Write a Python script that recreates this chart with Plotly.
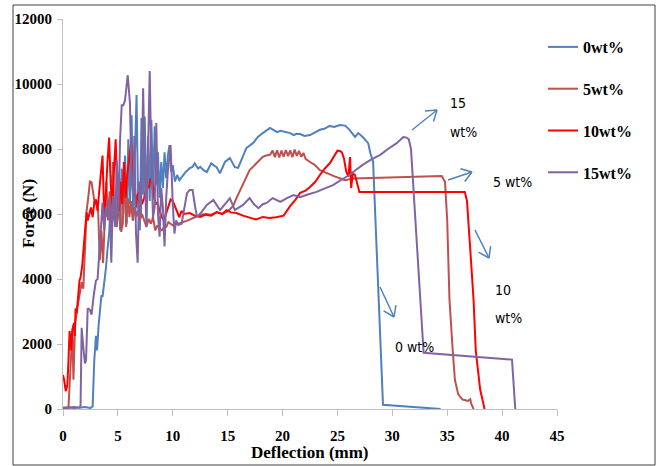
import math
import plotly.graph_objects as go

# ---------------- data ----------------
series_names = ["0wt%", "5wt%", "10wt%", "15wt%"]

x_0wt = [0, 0.5, 1.0, 1.5, 2.0, 2.5, 2.7, 2.85, 3.0, 3.1, 3.25, 3.4, 3.5, 3.6, 3.75, 3.9, 4.05, 4.2, 4.35,
         4.5, 4.6, 4.75, 4.9, 5.05, 5.2, 5.35, 5.5, 5.65, 5.8, 5.95, 6.1, 6.25, 6.4, 6.55, 6.7, 6.85, 7.0,
         7.15, 7.3, 7.45, 7.6, 7.75, 7.9, 8.05, 8.2, 8.35, 8.5, 8.65, 8.8, 8.95, 9.1, 9.25, 9.4, 9.55, 9.7,
         9.85, 10.0, 10.2, 10.4, 10.6, 10.95, 11.2, 11.55, 11.8, 12.0, 12.3, 12.5, 12.8, 13.1, 13.5, 13.8,
         14.0, 14.3, 14.75, 15.2, 15.65, 15.95, 16.3, 16.7, 17.3, 17.75, 18.2, 18.5, 18.85, 19.2, 19.5,
         19.8, 20.2, 20.7, 21.0, 21.3, 21.6, 22.0, 22.5, 23.0, 23.4, 23.8, 24.3, 24.7, 25.2, 25.7, 26.1,
         26.6, 26.9, 27.3, 27.8, 28.0, 28.25, 28.5, 29.15, 34.4]
y_0wt = [50, 30, 60, 40, 60, 30, 80, 1500, 2250, 1800, 2600, 3200, 3500, 3450, 3800, 4300, 4900, 5400, 6300,
         7200, 5800, 6500, 5600, 6900, 5500, 7400, 6000, 7800, 5700, 8300, 6300, 9040, 5800, 8200, 9660, 6200,
         5500, 8950, 6600, 9000, 5900, 8400, 6400, 8900, 6700, 8700, 6900, 7900, 6500, 7600, 6800, 7900, 7100,
         7800, 8120, 7300, 7500, 7000, 7200, 7040, 7200, 7300, 7410, 7450, 7560, 7400, 7450, 7350, 7290, 7560,
         7480, 7440, 7250, 7600, 7720, 7440, 7420, 7720, 8030, 8180, 8370, 8490, 8560, 8650, 8580, 8520, 8560,
         8520, 8490, 8430, 8470, 8460, 8400, 8430, 8520, 8590, 8620, 8710, 8680, 8740, 8720, 8590, 8370, 8490,
         8370, 8180, 7870, 7600, 5500, 130, 0]

x_5wt = [0, 0.3, 0.5, 0.7, 0.85, 0.95, 1.1, 1.3, 1.5, 1.7, 1.85, 2.0, 2.15, 2.3, 2.45, 2.6, 2.75, 2.9, 3.05,
         3.2, 3.35, 3.5, 3.65, 3.8, 3.95, 4.1, 4.25, 4.4, 4.55, 4.7, 4.85, 5.0, 5.15, 5.3, 5.45, 5.6, 5.75,
         5.9, 6.05, 6.2, 6.35, 6.5, 6.65, 6.8, 7.0, 7.2, 7.4, 7.6, 7.8, 8.0, 8.2, 8.4, 8.6, 8.8, 9.0, 9.2,
         9.4, 9.6, 9.8, 10.0, 10.5, 11.0, 11.5, 12.0, 12.5, 13.0, 13.5, 14.0, 14.5, 15.0, 15.5, 15.8, 16.1,
         16.4, 16.7, 17.0, 17.3, 17.6, 17.9, 18.2, 18.5, 18.85, 19.1, 19.3, 19.5, 19.7, 19.9, 20.1, 20.3,
         20.5, 20.7, 20.9, 21.1, 21.3, 21.5, 21.7, 21.9, 22.1, 22.5, 22.9, 23.4, 23.9, 24.3, 24.8, 25.2,
         25.7, 26.0, 26.4, 34.5, 34.8, 35.0, 35.2, 35.5, 35.7, 36.0, 36.4, 36.9, 37.1, 37.2, 37.4]
y_5wt = [0, 0, 50, 1600, 2400, 900, 2600, 3100, 3500, 3900, 3700, 5200, 6100, 6500, 7000, 6980, 6700, 6300,
         6340, 6100, 4580, 5500, 4490, 5900, 7000, 5800, 6700, 5500, 7600, 5910, 5600, 5900, 7100, 5450, 5700,
         7600, 5600, 6500, 5900, 6400, 5800, 6200, 5900, 6100, 5800, 6000, 5800, 5600, 5850, 5700, 5900, 5500,
         5650, 5550, 5500, 5600, 5600, 5750, 5700, 5650, 5700, 5750, 5820, 5900, 5970, 6000, 5980, 6050, 6000,
         6080, 6250, 6490, 6700, 6950, 7150, 7350, 7450, 7560, 7680, 7760, 7800, 7820, 7950, 7750, 7960, 7740,
         7950, 7760, 7970, 7780, 7960, 7750, 7980, 7790, 7940, 7760, 7880, 7700, 7600, 7520, 7350, 7280, 7200,
         7150, 7100, 7040, 7060, 7090, 7170, 6980, 5800, 3400, 1800, 900, 450, 290, 250, 300, 150, 0]

x_10wt = [0, 0.1, 0.25, 0.4, 0.5, 0.6, 0.7, 0.75, 0.85, 1.0, 1.07, 1.15, 1.25, 1.4, 1.5, 1.6, 1.75, 1.9, 2.05,
          2.15, 2.25, 2.4, 2.55, 2.7, 2.85, 3.0, 3.15, 3.3, 3.45, 3.6, 3.75, 3.9, 4.05, 4.2, 4.35, 4.5, 4.65,
          4.8, 4.95, 5.1, 5.25, 5.4, 5.55, 5.7, 5.85, 6.0, 6.2, 6.35, 6.5, 6.65, 6.8, 7.0, 7.2, 7.4, 7.6, 7.8,
          8.0, 8.15, 8.3, 8.45, 8.6, 8.8, 9.0, 9.2, 9.4, 9.6, 9.8, 10.0, 10.2, 10.4, 10.6, 10.8, 11.0, 11.55,
          12.0, 12.5, 13.0, 13.5, 14.0, 14.5, 14.9, 15.3, 15.8, 16.4, 17.0, 17.6, 18.2, 18.8, 19.4, 20.1, 20.7,
          21.2, 21.6, 22.1, 22.5, 23.0, 23.4, 23.8, 24.3, 24.7, 25.0, 25.2, 25.4, 25.6, 25.8, 26.0, 26.15,
          26.25, 26.4, 26.6, 26.8, 27.0, 36.6, 36.8, 37.1, 37.4, 37.6, 38.0, 38.3, 38.4]
y_10wt = [1050, 900, 550, 750, 1500, 2400, 2100, 1800, 2450, 2650, 2250, 3100, 2950, 3650, 3950, 4050, 4400,
          5050, 5600, 6050, 5800, 6000, 6200, 5900, 6350, 6450, 6100, 6700, 7300, 7800, 6000, 6600, 7600, 8350,
          6900, 6300, 7400, 8300, 6500, 6100, 7000, 6300, 7600, 6500, 7200, 7700, 8200, 6900, 7200, 6200, 6600,
          6700, 6300, 6500, 6900, 6800, 7100, 6900, 6500, 6300, 6350, 6100, 5900, 5800, 6000, 6200, 6450, 6400,
          6250, 6050, 5900, 6100, 6000, 6030, 5950, 5910, 5980, 5950, 6060, 6000, 6120, 6050, 6030, 5950, 5880,
          5830, 5910, 5880, 5900, 5950, 6250, 6450, 6650, 6720, 6830, 7000, 7200, 7380, 7560, 7800, 7950, 7940,
          7900, 7700, 7300, 7150, 7750, 6800, 7250, 7200, 6900, 6680, 6680, 6400, 4900, 3350, 1800, 600, 150, 0]

x_15wt = [0, 0.5, 1.0, 1.5, 1.6, 1.7, 1.85, 2.0, 2.1, 2.25, 2.45, 2.6, 2.8, 3.0, 3.15, 3.35, 3.5, 3.6, 3.75,
          3.9, 4.05, 4.25, 4.4, 4.55, 4.75, 4.9, 5.05, 5.2, 5.35, 5.5, 5.65, 5.9, 6.1, 6.25, 6.4, 6.5, 6.65,
          6.8, 6.95, 7.1, 7.3, 7.45, 7.6, 7.75, 7.9, 8.05, 8.2, 8.35, 8.5, 8.65, 8.8, 8.95, 9.1, 9.25, 9.4,
          9.55, 9.8, 10.0, 10.15, 10.3, 10.5, 10.8, 11.1, 11.3, 11.55, 11.8, 12.0, 12.2, 12.6, 13.1, 13.7,
          14.3, 14.75, 15.2, 15.65, 16.0, 16.4, 17.0, 17.4, 17.8, 18.2, 18.55, 19.1, 19.8, 20.4, 21.0, 21.6,
          22.3, 23.1, 23.8, 24.6, 25.3, 26.1, 26.7, 27.3, 28.1, 28.9, 29.6, 30.4, 31.0, 31.3, 31.5, 31.7,
          32.85, 40.9, 41.2]
y_15wt = [30, 60, 30, 50, 100, 2500, 1900, 1400, 1500, 3100, 3050, 2900, 3500, 3950, 4000, 4900, 5800, 6350,
          5500, 6200, 5900, 6450, 4500, 6550, 5600, 7650, 6100, 8300, 9350, 9350, 9500, 10270, 9400, 7000,
          6600, 8400, 5400, 4500, 7000, 6000, 9870, 7200, 5600, 8000, 10400, 7500, 5900, 6200, 8800, 6000,
          5300, 6800, 6200, 5000, 6500, 7300, 8120, 6300, 5400, 5800, 5660, 5700, 6300, 6650, 6740, 6740, 6300,
          5910, 6050, 6280, 6430, 6120, 6300, 6490, 6120, 6200, 6280, 6490, 6300, 6180, 6300, 6340, 6490, 6370,
          6490, 6580, 6520, 6600, 6680, 6780, 6890, 7040, 7200, 7360, 7510, 7680, 7820, 8000, 8180, 8370, 8350,
          8300, 8000, 1730, 1520, 0]

series_x = [x_0wt, x_5wt, x_10wt, x_15wt]
series_y = [y_0wt, y_5wt, y_10wt, y_15wt]
series_colors = ["#4F81BD", "#C0504D", "#FF0000", "#8064A2"]

x_ticks = [0, 5, 10, 15, 20, 25, 30, 35, 40, 45]
y_ticks = [0, 2000, 4000, 6000, 8000, 10000, 12000]

# ---------------- layout geometry (pixels) ----------------
W, H = 659, 466
L, R, T, B = 63, 102, 19, 57
PW, PH = W - L - R, H - T - B


def px2paper(px, py):
    return (px - L) / PW, (H - B - py) / PH


fig = go.Figure()
for name, xs, ys, col in zip(series_names, series_x, series_y, series_colors):
    fig.add_trace(go.Scatter(x=xs, y=ys, mode="lines", name=name, legendgroup=name,
                             line=dict(color=col, width=2)))

serif = "Liberation Serif, Times New Roman, serif"
narrow = "Liberation Sans Narrow, DejaVu Sans Condensed, Liberation Sans, sans-serif"
axis_gray = "#BFBFBF"

fig.update_layout(
    width=W, height=H,
    margin=dict(l=L, r=R, t=T, b=B, pad=0),
    paper_bgcolor="white", plot_bgcolor="white",
    showlegend=True,
    legend=dict(x=px2paper(543, 0)[0], y=px2paper(0, 30)[1], xanchor="left", yanchor="top",
                font=dict(family=serif, size=16, color="black", weight="bold"),
                tracegroupgap=18, itemwidth=30, bgcolor="rgba(0,0,0,0)"),
    xaxis=dict(range=[0, 45], tickvals=x_ticks, showgrid=False, zeroline=False,
               showline=True, linecolor=axis_gray, linewidth=1,
               ticks="outside", ticklen=6, tickcolor=axis_gray, ticklabelstandoff=7,
               tickfont=dict(family=serif, size=15, color="black", weight="bold")),
    yaxis=dict(range=[0, 12000], tickvals=y_ticks, tickformat="d", showgrid=False, zeroline=False,
               showline=True, linecolor=axis_gray, linewidth=1,
               ticks="outside", ticklen=5, tickcolor=axis_gray, ticklabelstandoff=2,
               tickfont=dict(family=serif, size=15, color="black", weight="bold")),
)

# outer chart border
bx0, by0 = px2paper(13, 465)
bx1, by1 = px2paper(655, 5)
fig.add_shape(type="rect", xref="paper", yref="paper", x0=bx0, y0=by0, x1=bx1, y1=by1,
              line=dict(color="#404040", width=1), layer="below")

# axis titles
tx, ty = px2paper(310, 452)
fig.add_annotation(text="<b>Deflection (mm)</b>", xref="paper", yref="paper", x=tx, y=ty,
                   xanchor="center", yanchor="middle", showarrow=False,
                   font=dict(family=serif, size=17, color="black"))
tx, ty = px2paper(28, 214)
fig.add_annotation(text="<b>Force (N)</b>", xref="paper", yref="paper", x=tx, y=ty,
                   xanchor="center", yanchor="middle", showarrow=False, textangle=-90,
                   font=dict(family=serif, size=17, color="black"))

# callout labels
labels = [("15", 448, 103), ("wt%", 448, 132), ("5 wt%", 491, 182),
          ("10", 493, 290), ("wt%", 493, 318), ("0 wt%", 393, 347)]
for txt, lx, ly in labels:
    ax_, ay_ = px2paper(lx, ly)
    fig.add_annotation(text=txt, xref="paper", yref="paper", x=ax_, y=ay_,
                       xanchor="left", yanchor="middle", showarrow=False,
                       font=dict(family=narrow, size=14, color="black"))

# callout arrows (open chevron heads), pixel endpoints
arrows = [((412, 130), (437, 110)), ((448, 180), (472, 172)),
          ((475, 230), (489, 258)), ((380, 287), (394, 317))]
arrow_col = "#4F81BD"
for (sx, sy), (ex, ey) in arrows:
    segs = [((sx, sy), (ex, ey))]
    ang = math.atan2(sy - ey, sx - ex)
    for d in (0.6, -0.6):
        hx = ex + 12 * math.cos(ang + d)
        hy = ey + 12 * math.sin(ang + d)
        segs.append(((ex, ey), (hx, hy)))
    for (p0, p1) in segs:
        a0 = px2paper(*p0)
        a1 = px2paper(*p1)
        fig.add_shape(type="line", xref="paper", yref="paper",
                      x0=a0[0], y0=a0[1], x1=a1[0], y1=a1[1],
                      line=dict(color=arrow_col, width=1.5))

fig.write_html("out.html", config={"displayModeBar": False},
               post_script="document.body.style.margin='0';")
